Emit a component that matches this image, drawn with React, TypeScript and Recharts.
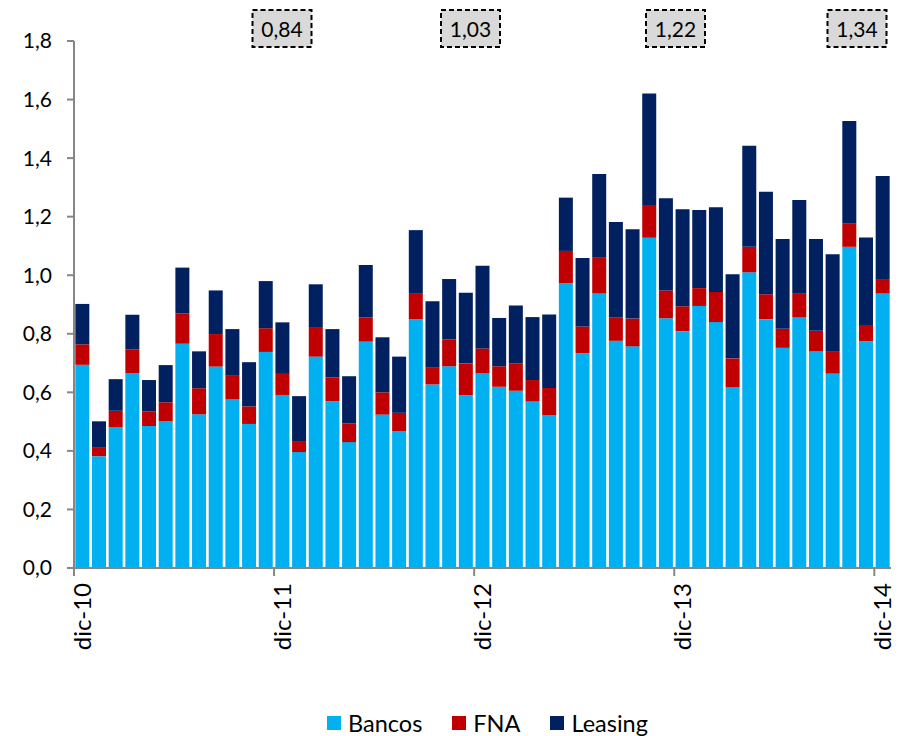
import React from 'react';
import { BarChart, Bar, XAxis, YAxis, Legend } from 'recharts';

const months = [
  'dic-10', 'ene-11', 'feb-11', 'mar-11', 'abr-11', 'may-11', 'jun-11', 'jul-11', 'ago-11', 'sep-11', 'oct-11', 'nov-11',
  'dic-11', 'ene-12', 'feb-12', 'mar-12', 'abr-12', 'may-12', 'jun-12', 'jul-12', 'ago-12', 'sep-12', 'oct-12', 'nov-12',
  'dic-12', 'ene-13', 'feb-13', 'mar-13', 'abr-13', 'may-13', 'jun-13', 'jul-13', 'ago-13', 'sep-13', 'oct-13', 'nov-13',
  'dic-13', 'ene-14', 'feb-14', 'mar-14', 'abr-14', 'may-14', 'jun-14', 'jul-14', 'ago-14', 'sep-14', 'oct-14', 'nov-14',
  'dic-14',
];

const bancos = [
  0.694, 0.382, 0.480, 0.666, 0.485, 0.502, 0.766, 0.525, 0.688, 0.577, 0.492, 0.738,
  0.591, 0.396, 0.722, 0.569, 0.430, 0.773, 0.524, 0.467, 0.849, 0.627, 0.689, 0.590,
  0.665, 0.619, 0.605, 0.570, 0.521, 0.972, 0.733, 0.938, 0.776, 0.757, 1.128, 0.853,
  0.809, 0.895, 0.840, 0.618, 1.010, 0.850, 0.752, 0.857, 0.740, 0.664, 1.097, 0.774,
  0.938,
];

const fna = [
  0.070, 0.031, 0.057, 0.081, 0.050, 0.064, 0.104, 0.089, 0.111, 0.082, 0.060, 0.081,
  0.072, 0.035, 0.101, 0.082, 0.064, 0.083, 0.076, 0.063, 0.090, 0.059, 0.092, 0.109,
  0.085, 0.070, 0.094, 0.072, 0.094, 0.111, 0.092, 0.124, 0.080, 0.095, 0.112, 0.095,
  0.085, 0.061, 0.103, 0.098, 0.087, 0.085, 0.065, 0.080, 0.070, 0.077, 0.081, 0.056,
  0.049,
];

const leasing = [
  0.138, 0.088, 0.108, 0.118, 0.107, 0.127, 0.156, 0.126, 0.149, 0.157, 0.151, 0.161,
  0.176, 0.156, 0.146, 0.165, 0.161, 0.179, 0.188, 0.192, 0.215, 0.225, 0.206, 0.241,
  0.282, 0.165, 0.198, 0.215, 0.251, 0.182, 0.234, 0.284, 0.326, 0.305, 0.381, 0.315,
  0.331, 0.267, 0.289, 0.287, 0.345, 0.350, 0.307, 0.320, 0.314, 0.331, 0.349, 0.299,
  0.352,
];

const yTicks = [0, 0.2, 0.4, 0.6, 0.8, 1.0, 1.2, 1.4, 1.6, 1.8];
const xTickLabels = ['dic-10', 'dic-11', 'dic-12', 'dic-13', 'dic-14'];
const annotationLabels = ['0,84', '1,03', '1,22', '1,34'];
const annotationCenters = [282, 470.5, 675.5, 857];

const series = [
  { key: 'bancos', name: 'Bancos', color: '#00B0F0' },
  { key: 'fna', name: 'FNA', color: '#C00000' },
  { key: 'leasing', name: 'Leasing', color: '#002060' },
];

const data = months.map((m, i) => ({ m, bancos: bancos[i], fna: fna[i], leasing: leasing[i] }));

const W = 898;
const H = 736;
const Y_AXIS_W = 74;
const MARGIN = { top: 41, right: 7, left: 0, bottom: 0 };
const BAND = (W - Y_AXIS_W - MARGIN.right) / months.length;
const FONT = 'Lato, "Open Sans", sans-serif';
const AXIS_COLOR = '#868686';

function XTick(props: any) {
  const { x, y, payload } = props;
  const label = String(payload.value);
  if (!xTickLabels.includes(label)) return <g />;
  return (
    <g>
      <line x1={x - BAND / 2} x2={x - BAND / 2} y1={y} y2={y + 8} stroke={AXIS_COLOR} strokeWidth={2} />
      <text
        transform={`translate(${x},${y + 15}) rotate(-90)`}
        textAnchor="end"
        dy="0.36em"
        fontSize={24}
        fontFamily={FONT}
        fill="#000"
      >
        {label}
      </text>
    </g>
  );
}

function LegendContent() {
  return (
    <div style={{ display: 'flex', alignItems: 'center', marginLeft: 327, height: 32, fontSize: 23.5, fontFamily: FONT, color: '#000' }}>
      {series.map((s, i) => (
        <div key={s.key} style={{ display: 'flex', alignItems: 'center', marginLeft: i ? 30 : 0 }}>
          <span style={{ display: 'inline-block', width: 14, height: 14, background: s.color, marginRight: 7 }} />
          <span>{s.name}</span>
        </div>
      ))}
    </div>
  );
}

export default function App() {
  return (
    <div style={{ position: 'absolute', left: 0, top: 0, width: W, height: H, background: '#fff' }}>
      <BarChart width={W} height={H} data={data} margin={MARGIN} barCategoryGap="8%" style={{ fontFamily: FONT }}>
        <XAxis
          dataKey="m"
          interval={0}
          height={H - 568}
          tickSize={0}
          tickMargin={0}
          tickLine={false}
          tick={<XTick />}
          axisLine={{ stroke: AXIS_COLOR, strokeWidth: 2 }}
        />
        <YAxis
          width={Y_AXIS_W}
          domain={[0, 1.8]}
          ticks={yTicks}
          interval={0}
          tickSize={7}
          tickMargin={15}
          tickFormatter={(v: number) => v.toFixed(1).replace('.', ',')}
          tick={{ fontSize: 21, fill: '#000', fontFamily: FONT }}
          tickLine={{ stroke: AXIS_COLOR, strokeWidth: 2 }}
          axisLine={{ stroke: AXIS_COLOR, strokeWidth: 2 }}
        />
        <Legend
          layout="horizontal"
          verticalAlign="middle"
          align="center"
          wrapperStyle={{ top: 707, left: 0, width: W }}
          content={() => <LegendContent />}
        />
        {series.map((s) => (
          <Bar key={s.key} dataKey={s.key} name={s.name} stackId="a" fill={s.color} isAnimationActive={false} />
        ))}
      </BarChart>
      <svg width={W} height={60} style={{ position: 'absolute', left: 0, top: 0, pointerEvents: 'none' }}>
        {annotationLabels.map((t, i) => (
          <g key={t}>
            <rect
              x={annotationCenters[i] - 29.5}
              y={10}
              width={59}
              height={37}
              fill="#D9D9D9"
              stroke="#000"
              strokeWidth={2}
              strokeDasharray="5 3"
            />
            <text
              x={annotationCenters[i]}
              y={28.5}
              textAnchor="middle"
              dominantBaseline="central"
              fontSize={21}
              fontFamily={FONT}
              fill="#000"
            >
              {t}
            </text>
          </g>
        ))}
      </svg>
    </div>
  );
}
